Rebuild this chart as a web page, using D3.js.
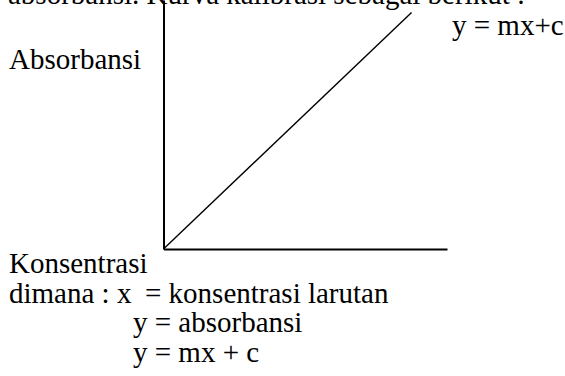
<!DOCTYPE html>
<html>
<head>
<meta charset="utf-8">
<script src="https://cdn.jsdelivr.net/npm/d3@7"></script>
<style>
  body { margin: 0; background: #fff; }
</style>
</head>
<body>
<svg id="chart"></svg>
<script>
// calibration curve: concentration vs absorbance
const concentration = [0, 7];
const absorbance = [0, 9.5];
const xDomain = [0, 8];
const yDomain = [0, 10];

const width = 565, height = 376;
const fontSize = 29;

const svg = d3.select("#chart")
  .attr("width", width)
  .attr("height", height);

const x = d3.scaleLinear().domain(xDomain).range([163.5, 447]);
const y = d3.scaleLinear().domain(yDomain).range([249, 0]);

// axes without ticks, just the lines
svg.append("g")
  .attr("transform", `translate(0,${y(0)})`)
  .call(d3.axisBottom(x).ticks(0).tickSizeOuter(0))
  .call(g => g.select(".domain").attr("stroke", "#000").attr("stroke-width", 2));

svg.append("g")
  .attr("transform", `translate(${x(0)},0)`)
  .call(d3.axisLeft(y).ticks(0).tickSizeOuter(0))
  .call(g => g.select(".domain").attr("stroke", "#000").attr("stroke-width", 2));

// straight line y = mx + c
const points = concentration.map((c, i) => [c, absorbance[i]]);
svg.append("path")
  .datum(points)
  .attr("fill", "none")
  .attr("stroke", "#000")
  .attr("stroke-width", 1.4)
  .attr("d", d3.line().x(d => x(d[0])).y(d => y(d[1])));

// surrounding text (from the document page)
const labels = [
  { t: "absorbansi. Kurva kalibrasi sebagai berikut :", x: 8, y: 4 },
  { t: "y = mx+c", x: 452, y: 35 },
  { t: "Absorbansi", x: 9, y: 69 },
  { t: "Konsentrasi", x: 9, y: 273 },
  { t: "dimana : x", x: 9, y: 303 },
  { t: "= konsentrasi larutan", x: 145, y: 303 },
  { t: "y = absorbansi", x: 133, y: 332 },
  { t: "y = mx + c", x: 133, y: 362 }
];

svg.append("g")
  .selectAll("text")
  .data(labels)
  .enter()
  .append("text")
  .attr("x", d => d.x)
  .attr("y", d => d.y)
  .attr("font-family", "Liberation Serif")
  .attr("font-size", fontSize)
  .attr("fill", "#000")
  .text(d => d.t);
</script>
</body>
</html>
